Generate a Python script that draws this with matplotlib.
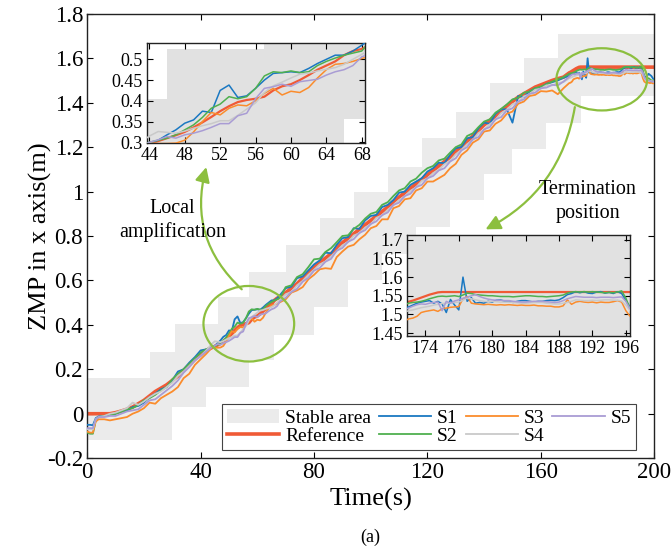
import numpy as np
import matplotlib
matplotlib.use("Agg")
import matplotlib.pyplot as plt
from matplotlib.patches import Ellipse
from matplotlib.ticker import FuncFormatter

plt.rcParams['font.family'] = ['Liberation Serif', 'DejaVu Serif']

# ─── DATA ─────────────────────────────────────────────────────────────────────
# sample times: coarse in the main trend, finer in the two zoomed windows
t = np.concatenate([[0, 1, 2, 3, 4], np.arange(6, 43, 2), np.arange(44, 69, 1),
                    np.arange(70, 169, 2), np.arange(170, 200.1, 0.5)])

reference = [
    0, 0, 0, 0, 0, 0, 0, 0.005, 0.012, 0.02, 0.03, 0.045, 0.06, 0.08, 0.10, 0.115, 0.13, 0.15, 0.17, 0.195, 0.22, 0.245, 0.265, 0.285,
    0.298, 0.303, 0.31, 0.317, 0.325, 0.336, 0.348, 0.361, 0.375, 0.387, 0.397, 0.402, 0.405, 0.41, 0.425, 0.435, 0.44, 0.45, 0.462, 0.475, 0.485, 0.495, 0.51, 0.52, 0.525,
    0.545, 0.565, 0.585, 0.61, 0.635, 0.66, 0.68, 0.70, 0.72, 0.745, 0.77, 0.79, 0.81, 0.83, 0.85, 0.87, 0.89, 0.91, 0.93, 0.955, 0.975, 0.995, 1.015, 1.035, 1.055,
    1.075, 1.095, 1.115, 1.135, 1.155, 1.18, 1.20, 1.225, 1.25, 1.275, 1.30, 1.32, 1.34, 1.365, 1.385, 1.405, 1.425, 1.44, 1.455, 1.47, 1.48, 1.49, 1.50, 1.508, 1.515,
    1.534, 1.537, 1.541, 1.545, 1.549, 1.553, 1.556, 1.559] + [1.56] * 53

s1 = [
    -0.05, -0.05, -0.052, -0.02, -0.012, -0.01, -0.005, 0.0, 0.01, 0.015, 0.03, 0.035, 0.05, 0.075, 0.09, 0.11, 0.12, 0.15, 0.19, 0.2, 0.23, 0.255, 0.285, 0.29,
    0.298, 0.305, 0.318, 0.33, 0.346, 0.354, 0.375, 0.372, 0.425, 0.438, 0.408, 0.412, 0.43, 0.45, 0.466, 0.468, 0.47, 0.468, 0.478, 0.49, 0.5, 0.51, 0.51, 0.52, 0.534,
    0.565, 0.572, 0.61, 0.618, 0.645, 0.672, 0.69, 0.725, 0.722, 0.76, 0.79, 0.795, 0.835, 0.832, 0.87, 0.89, 0.895, 0.93, 0.94, 0.962, 0.995, 1.0, 1.03, 1.045, 1.06,
    1.09, 1.105, 1.13, 1.128, 1.165, 1.195, 1.2, 1.24, 1.245, 1.285, 1.31, 1.305, 1.35, 1.37, 1.37, 1.31, 1.43, 1.425, 1.45, 1.465, 1.468, 1.485, 1.492, 1.50, 1.512,
    1.52, 1.525, 1.53, 1.533, 1.535, 1.537, 1.53, 1.535, 1.528, 1.505, 1.54, 1.525,
    1.512, 1.60, 1.535, 1.545, 1.53, 1.532, 1.53, 1.535, 1.533, 1.538, 1.539, 1.535,
    1.535, 1.532, 1.535, 1.537, 1.537, 1.535, 1.533, 1.535, 1.535, 1.537, 1.538, 1.537, 1.539, 1.545, 1.553, 1.556, 1.561, 1.558, 1.561, 1.557,
    1.556, 1.56, 1.561, 1.557, 1.559, 1.556, 1.561, 1.556, 1.537, 1.52, 1.515, 1.52, 1.53, 1.525, 1.52, 1.51, 1.505]

s2 = [
    -0.085, -0.09, -0.09, -0.03, -0.015, -0.01, -0.005, 0.0, 0.008, 0.02, 0.025, 0.04, 0.06, 0.07, 0.085, 0.105, 0.12, 0.155, 0.18, 0.20, 0.225, 0.25, 0.275, 0.29,
    0.30, 0.305, 0.31, 0.318, 0.33, 0.342, 0.36, 0.382, 0.392, 0.41, 0.405, 0.41, 0.43, 0.46, 0.47, 0.468, 0.472, 0.468, 0.47, 0.485, 0.495, 0.503, 0.51, 0.515, 0.52,
    0.57, 0.578, 0.615, 0.628, 0.66, 0.695, 0.698, 0.728, 0.745, 0.772, 0.80, 0.803, 0.832, 0.85, 0.878, 0.9, 0.908, 0.94, 0.952, 0.98, 1.005, 1.015, 1.045, 1.058, 1.085,
    1.105, 1.115, 1.14, 1.148, 1.175, 1.20, 1.212, 1.25, 1.262, 1.29, 1.315, 1.325, 1.355, 1.372, 1.392, 1.415, 1.422, 1.445, 1.45, 1.465, 1.472, 1.483, 1.495, 1.505, 1.515,
    1.53, 1.532, 1.533, 1.535, 1.538, 1.542, 1.545, 1.548, 1.549, 1.548, 1.549, 1.55,
    1.548, 1.552, 1.557, 1.556, 1.553, 1.552, 1.551, 1.55, 1.55, 1.549, 1.548, 1.548,
    1.548, 1.547, 1.548, 1.549, 1.55, 1.55, 1.549, 1.548, 1.548, 1.547, 1.548, 1.549, 1.55, 1.552, 1.557, 1.56, 1.561, 1.56, 1.561, 1.56,
    1.561, 1.56, 1.559, 1.558, 1.559, 1.558, 1.56, 1.563, 1.544, 1.515, 1.505, 1.505, 1.51, 1.505, 1.5, 1.5, 1.498]

s3 = [
    -0.08, -0.085, -0.085, -0.035, -0.025, -0.025, -0.03, -0.025, -0.02, -0.015, 0.0, 0.01, 0.025, 0.05, 0.045, 0.07, 0.085, 0.10, 0.12, 0.16, 0.18, 0.22, 0.245, 0.27,
    0.298, 0.297, 0.297, 0.298, 0.305, 0.325, 0.35, 0.372, 0.366, 0.382, 0.39, 0.388, 0.4, 0.418, 0.43, 0.414, 0.423, 0.42, 0.432, 0.455, 0.475, 0.488, 0.49, 0.495, 0.502,
    0.515, 0.545, 0.555, 0.57, 0.605, 0.625, 0.65, 0.655, 0.652, 0.705, 0.73, 0.752, 0.76, 0.785, 0.805, 0.835, 0.845, 0.875, 0.875, 0.925, 0.935, 0.965, 0.97, 1.005, 1.015,
    1.045, 1.045, 1.06, 1.075, 1.105, 1.125, 1.165, 1.185, 1.22, 1.235, 1.27, 1.275, 1.305, 1.32, 1.35, 1.36, 1.395, 1.405, 1.43, 1.435, 1.452, 1.45, 1.455, 1.438, 1.465,
    1.488, 1.49, 1.495, 1.505, 1.508, 1.51, 1.512, 1.508, 1.515, 1.517, 1.519, 1.52,
    1.521, 1.542, 1.548, 1.53, 1.528, 1.527, 1.526, 1.527, 1.526, 1.525, 1.526, 1.525,
    1.526, 1.525, 1.524, 1.525, 1.524, 1.524, 1.525, 1.523, 1.523, 1.522, 1.522, 1.52, 1.52, 1.523, 1.539, 1.527, 1.533, 1.535, 1.533, 1.532,
    1.533, 1.531, 1.533, 1.532, 1.532, 1.534, 1.537, 1.533, 1.51, 1.495, 1.49, 1.492, 1.49, 1.488, 1.49, 1.487, 1.488]

s4 = [
    -0.07, -0.07, -0.07, -0.025, -0.015, -0.01, 0.0, 0.005, 0.015, 0.025, 0.05, 0.04, 0.055, 0.075, 0.09, 0.1, 0.12, 0.14, 0.17, 0.19, 0.215, 0.24, 0.26, 0.285,
    0.315, 0.326, 0.324, 0.322, 0.327, 0.334, 0.34, 0.345, 0.352, 0.352, 0.365, 0.38, 0.395, 0.42, 0.436, 0.445, 0.455, 0.464, 0.467, 0.472, 0.476, 0.48, 0.488, 0.5, 0.512,
    0.538, 0.548, 0.578, 0.598, 0.625, 0.648, 0.672, 0.685, 0.708, 0.732, 0.758, 0.772, 0.802, 0.812, 0.838, 0.852, 0.882, 0.892, 0.918, 0.938, 0.962, 0.978, 1.003, 1.018, 1.048,
    1.058, 1.083, 1.098, 1.123, 1.138, 1.168, 1.188, 1.213, 1.232, 1.263, 1.278, 1.303, 1.322, 1.353, 1.368, 1.393, 1.403, 1.428, 1.438, 1.458, 1.463, 1.478, 1.478, 1.488, 1.493,
    1.51, 1.512, 1.515, 1.518, 1.52, 1.522, 1.525, 1.527, 1.529, 1.53, 1.531, 1.532,
    1.533, 1.538, 1.544, 1.542, 1.539, 1.537, 1.535, 1.534, 1.535, 1.534, 1.533, 1.533,
    1.533, 1.532, 1.531, 1.53, 1.53, 1.531, 1.532, 1.532, 1.532, 1.53, 1.529, 1.528, 1.528, 1.53, 1.532, 1.535, 1.539, 1.538, 1.537, 1.537,
    1.538, 1.537, 1.538, 1.539, 1.539, 1.538, 1.538, 1.536, 1.525, 1.51, 1.502, 1.5, 1.5, 1.498, 1.497, 1.496, 1.495]

s5 = [
    -0.065, -0.065, -0.065, -0.025, -0.015, -0.015, -0.01, -0.01, 0.0, 0.01, 0.015, 0.02, 0.04, 0.06, 0.065, 0.085, 0.105, 0.125, 0.15, 0.185, 0.21, 0.24, 0.26, 0.28,
    0.30, 0.306, 0.314, 0.31, 0.318, 0.322, 0.328, 0.336, 0.345, 0.345, 0.364, 0.37, 0.405, 0.43, 0.434, 0.44, 0.435, 0.446, 0.449, 0.452, 0.462, 0.47, 0.475, 0.485, 0.506,
    0.522, 0.548, 0.562, 0.594, 0.612, 0.644, 0.656, 0.684, 0.697, 0.734, 0.746, 0.774, 0.786, 0.814, 0.826, 0.854, 0.866, 0.894, 0.906, 0.94, 0.95, 0.98, 0.99, 1.02, 1.03,
    1.06, 1.07, 1.095, 1.105, 1.135, 1.15, 1.185, 1.2, 1.235, 1.245, 1.28, 1.29, 1.325, 1.335, 1.365, 1.375, 1.405, 1.415, 1.44, 1.445, 1.465, 1.468, 1.48, 1.478, 1.495,
    1.517, 1.522, 1.526, 1.528, 1.527, 1.53, 1.532, 1.533, 1.51, 1.535, 1.53, 1.536,
    1.539, 1.543, 1.546, 1.55, 1.553, 1.548, 1.544, 1.541, 1.539, 1.538, 1.538, 1.537,
    1.537, 1.535, 1.534, 1.533, 1.533, 1.534, 1.535, 1.535, 1.535, 1.534, 1.533, 1.532, 1.533, 1.537, 1.542, 1.545, 1.548, 1.547, 1.546, 1.546,
    1.546, 1.545, 1.546, 1.546, 1.546, 1.545, 1.546, 1.547, 1.535, 1.515, 1.505, 1.5, 1.5, 1.498, 1.495, 1.495, 1.493]

series = [s1, s2, s3, s4, s5]
series_names = ['S1', 'S2', 'S3', 'S4', 'S5']
series_colors = ['#1a78c2', '#4fb04f', '#fb8c2c', '#c9c9c9', '#a99cd4']

# stable area: footstep rectangles (start, end time, low, high)
stable_t0 = [0, 22, 31, 46, 57, 70, 82, 94, 106, 118, 130, 142, 154, 166]
stable_t1 = [30, 42, 57, 66, 80, 92, 104, 116, 128, 140, 150, 162, 174, 200]
stable_lo = [-0.12, 0.03, 0.12, 0.24, 0.355, 0.48, 0.60, 0.72, 0.84, 0.96, 1.08, 1.19, 1.31, 1.43]
stable_hi = [0.16, 0.28, 0.405, 0.525, 0.64, 0.76, 0.88, 1.00, 1.11, 1.24, 1.36, 1.49, 1.60, 1.71]

# inset tick positions and the labels printed on them
inset2_ticks = [172, 176, 180, 184, 188, 192, 196]
inset2_labels = ['174', '176', '180', '184', '188', '192', '196']

GREEN = '#8cbf3f'
fmt = FuncFormatter(lambda v, p: f'{v:g}')


def draw_stable(ax, color):
    t0 = np.array(stable_t0); t1 = np.array(stable_t1)
    lo = np.array(stable_lo); hi = np.array(stable_hi)
    return ax.bar(t0, hi - lo, width=t1 - t0, bottom=lo, align='edge', color=color,
                  edgecolor='none', zorder=1, label='Stable area')


def draw_lines(ax, lw_ref, lw):
    h_ref, = ax.plot(t, reference, color='#f05a36', lw=lw_ref, zorder=2, label='Reference')
    hs = []
    for y, c, n in zip(series, series_colors, series_names):
        h, = ax.plot(t, y, color=c, lw=lw, zorder=3, label=n)
        hs.append(h)
    return h_ref, hs


def style(ax, size):
    ax.tick_params(direction='in', top=True, right=True, labelsize=size, length=4, width=0.8, pad=3)
    for s in ax.spines.values():
        s.set_linewidth(1.0)
        s.set_color('#222222')


fig = plt.figure(figsize=(6.71, 5.52), dpi=100)
ax = fig.add_axes([0.130, 0.170, 0.845, 0.805])

bars = draw_stable(ax, '#ebebeb')
h_ref, hs = draw_lines(ax, 2.6, 1.3)
ax.set_xlim(0, 200)
ax.set_ylim(-0.2, 1.8)
ax.set_xticks(np.arange(0, 201, 40))
ax.set_yticks(np.arange(-0.2, 1.81, 0.2))
ax.yaxis.set_major_formatter(fmt)
style(ax, 16.5)
ax.set_xlabel('Time(s)', fontsize=19, labelpad=3)
ax.set_ylabel('ZMP in x axis(m)', fontsize=19, labelpad=-4)
fig.text(0.552, 0.027, '(a)', ha='center', va='center', fontsize=13)

leg = ax.legend([bars, h_ref] + hs, ['Stable area', 'Reference'] + series_names, ncol=4,
                loc='lower right', bbox_to_anchor=(0.968, 0.018), fontsize=14,
                fancybox=False, edgecolor='#444444', framealpha=1, handlelength=2.7,
                handletextpad=0.3, columnspacing=0.4, labelspacing=0.05, borderpad=0.25,
                borderaxespad=0)
leg.get_frame().set_linewidth(0.8)

# ellipses and arrows
ax.add_patch(Ellipse((57, 0.405), 32, 0.34, fill=False, edgecolor=GREEN, lw=1.6, zorder=5))
ax.add_patch(Ellipse((181.5, 1.505), 32, 0.28, fill=False, edgecolor=GREEN, lw=1.6, zorder=5))
ax.annotate('', xy=(42, 1.11), xytext=(54.5, 0.56),
            arrowprops=dict(arrowstyle='-|>', color=GREEN, lw=1.6, mutation_scale=22,
                            connectionstyle='arc3,rad=-0.3', shrinkA=0, shrinkB=0))
ax.annotate('', xy=(140.5, 0.83), xytext=(172, 1.38),
            arrowprops=dict(arrowstyle='-|>', color=GREEN, lw=1.6, mutation_scale=22,
                            connectionstyle='arc3,rad=-0.25', shrinkA=0, shrinkB=0))
ax.text(30, 0.87, 'Local\namplification', ha='center', va='center', fontsize=14.5, linespacing=1.3)
ax.text(176.5, 0.955, 'Termination\nposition', ha='center', va='center', fontsize=14.5, linespacing=1.3)

# inset 1: local amplification
ax1 = fig.add_axes([0.2186, 0.7404, 0.3258, 0.1822])
ax1.set_facecolor('white')
draw_stable(ax1, '#e1e1e1')
draw_lines(ax1, 1.6, 1.1)
ax1.set_xlim(43.7, 68.4)
ax1.set_ylim(0.2976, 0.54)
ax1.set_xticks(np.arange(44, 69, 4))
ax1.set_yticks([0.3, 0.35, 0.4, 0.45, 0.5])
ax1.yaxis.set_major_formatter(fmt)
style(ax1, 13)

# inset 2: termination position
ax2 = fig.add_axes([0.6066, 0.3913, 0.3323, 0.183])
ax2.set_facecolor('white')
draw_stable(ax2, '#e1e1e1')
draw_lines(ax2, 1.6, 1.1)
ax2.set_xlim(169.8, 196.5)
ax2.set_ylim(1.442, 1.713)
ax2.set_xticks(inset2_ticks)
ax2.set_xticklabels(inset2_labels)
ax2.set_yticks([1.45, 1.5, 1.55, 1.6, 1.65, 1.7])
ax2.yaxis.set_major_formatter(fmt)
style(ax2, 13)

fig.savefig('out.png', dpi=100)
